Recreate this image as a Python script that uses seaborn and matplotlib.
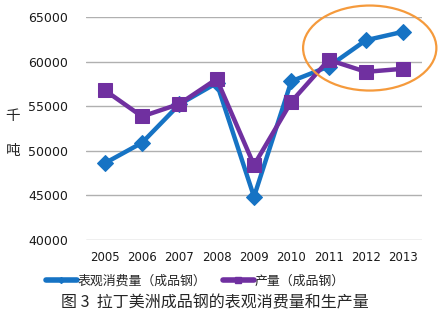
import matplotlib
matplotlib.use("Agg")
import matplotlib.pyplot as plt
from matplotlib.patches import Ellipse
from matplotlib.lines import Line2D
import seaborn as sns
import pandas as pd

years = ["2005", "2006", "2007", "2008", "2009", "2010", "2011", "2012", "2013"]
consumption = [48600, 50900, 55200, 57600, 44850, 57800, 59450, 62400, 63350]
production = [56800, 53850, 55250, 58050, 48400, 55500, 60200, 58850, 59200]
series_names = ["表观消费量（成品钢）", "产量（成品钢）"]
y_ticks = [40000, 45000, 50000, 55000, 60000, 65000]
caption = "图 3  拉丁美洲成品钢的表观消费量和生产量"
ylabel_chars = ["千", "吨"]

sns.set_theme(style="white")
plt.rcParams['font.family'] = ['Noto Sans CJK SC', 'DejaVu Sans']

df = pd.DataFrame({
    "year": years * 2,
    "value": consumption + production,
    "series": [series_names[0]] * len(years) + [series_names[1]] * len(years),
})
df["x"] = [years.index(y) for y in df["year"]]

blue = "#1673C4"
purple = "#7030A0"

fig = plt.figure(figsize=(4.43, 3.22), dpi=100)
ax = fig.add_axes([86 / 443, 1 - 240 / 322, (422 - 86) / 443, (240 - 17) / 322])

sns.lineplot(data=df[df["series"] == series_names[0]], x="x", y="value", ax=ax,
             color=blue, linewidth=3.2, marker="D", markersize=8,
             markeredgecolor=blue, legend=False)
sns.lineplot(data=df[df["series"] == series_names[1]], x="x", y="value", ax=ax,
             color=purple, linewidth=3.2, marker="s", markersize=9.5,
             markeredgecolor=purple, legend=False)

ax.set_xlim(-0.5, len(years) - 0.5)
ax.set_ylim(40000, 65000)
ax.set_yticks(y_ticks)
ax.set_yticklabels([str(v) for v in y_ticks], family="DejaVu Sans", fontsize=9, color="#1a1a1a")
ax.set_xticks(range(len(years)))
ax.set_xticklabels(years, family="DejaVu Sans", fontsize=8.5, color="#1a1a1a")
ax.tick_params(axis="both", length=0, pad=8)
ax.tick_params(axis="y", pad=13)
ax.grid(axis="y", color="#b0b0b0", linewidth=1.0)
ax.grid(axis="x", visible=False)
for s in ax.spines.values():
    s.set_visible(False)
ax.set_xlabel("")
ax.set_ylabel("")

# stacked y label
fig.text(13 / 443, 1 - 116 / 322, ylabel_chars[0], ha="center", va="center", fontsize=10.5)
fig.text(13 / 443, 1 - 151 / 322, ylabel_chars[1], ha="center", va="center", fontsize=10.5)

# orange ellipse highlight
ell = Ellipse((7.1, 61520), width=3.57, height=9530, fill=False,
              edgecolor="#F59A3C", linewidth=1.6, clip_on=False, zorder=5)
ax.add_patch(ell)

handles = [
    Line2D([], [], color=blue, linewidth=4, marker="D", markersize=3, markeredgecolor=blue),
    Line2D([], [], color=purple, linewidth=4, marker="s", markersize=4, markeredgecolor=purple),
]
fig.legend(handles, series_names, loc="center", bbox_to_anchor=(195 / 443, 1 - 281 / 322),
           ncol=2, frameon=False, prop={"size": 9.3},
           handlelength=2.4, columnspacing=1.3, handletextpad=0.05)

fig.text(215 / 443, 1 - 303 / 322, caption, ha="center", va="center", fontsize=11.5)

fig.savefig("out.png", dpi=100)
